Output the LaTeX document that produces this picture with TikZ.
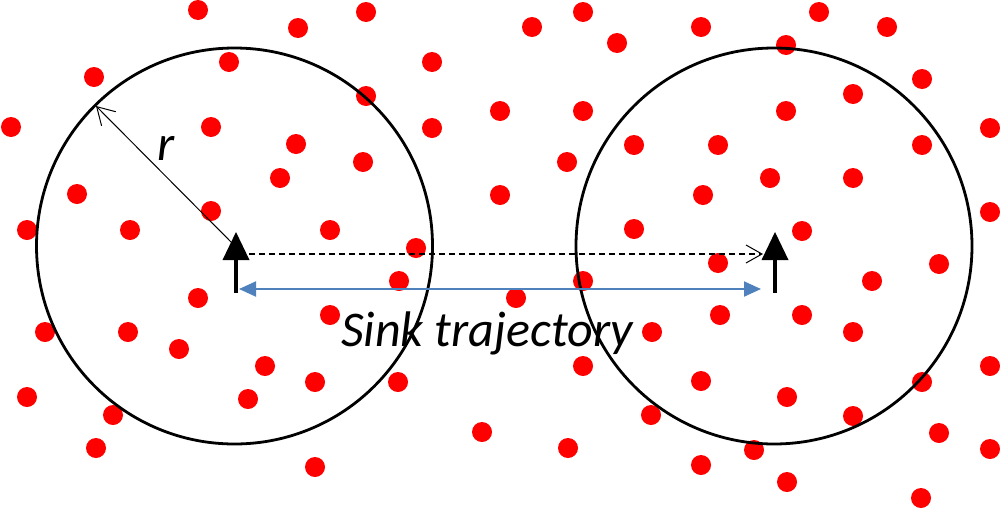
\documentclass[tikz,border=0pt]{standalone}
\usepackage{fontspec}
\setmainfont{Carlito}
\usetikzlibrary{arrows.meta}
\definecolor{dotred}{RGB}{255,0,0}
\definecolor{trajblue}{RGB}{79,129,189}
\begin{document}
\begin{tikzpicture}[x=1pt,y=-1pt,
  sensor/.style={fill=dotred},
  rangecircle/.style={circle,draw=black,line width=2.8pt,minimum size=396pt,inner sep=0pt},
  sinkhead/.style={fill=black},
  sinkstem/.style={line width=4pt},
  dashedmove/.style={draw=black,line width=1.1pt,dash pattern=on 6pt off 4pt,-{Straight Barb[length=16pt,width=18pt,line width=1pt]}},
  radiusline/.style={draw=black,line width=1pt,-{Straight Barb[length=17pt,width=20pt,line width=1pt]}},
  trajline/.style={draw=trajblue,line width=2pt,{Triangle[length=17pt,width=15pt]}-{Triangle[length=17pt,width=15pt]}},
  label/.style={font=\fontsize{50}{60}\selectfont\itshape,inner sep=0pt,anchor=base}
]
\useasboundingbox (0,0) rectangle (1000,509);
% sensor nodes (dots)
\foreach \x/\y in {198/10,298/28,366/12,229/62,94/77,432/62,366/96,11/127,211/127,432/128,500/111,296/144,363/162,280/178,77/194,500/195,211/211,27/230,130/230,330/230,416/248,
583/12,532/27,701/27,819/12,887/27,617/43,786/45,922/79,853/94,583/111,786/111,990/128,634/145,718/145,922/145,567/162,770/178,853/178,703/195,990/212,634/229,802/231,718/263,939/264,
399/281,198/298,330/315,45/332,128/332,179/349,265/366,315/382,398/382,27/397,248/399,113/415,482/432,96/448,315/467,
583/281,872/281,516/298,720/315,802/315,652/332,853/332,583/366,990/366,701/381,922/382,787/397,651/415,853/416,939/433,568/448,754/450,990/449,701/465,787/482,921/498}
  \fill[sensor] (\x,\y) circle[radius=10pt];
% range circles
\node[rangecircle] (c1) at (234.5,246) {};
\node[rangecircle] (c2) at (774,246) {};
% sink positions
\coordinate (s1) at (235,246);
\coordinate (s2) at (775,246);
\coordinate (redge) at (96,106);
% radius arrow
\draw[radiusline] (s1) -- (redge);
\node[label] (rlab) at (166,160) {r};
% dashed movement arrow
\coordinate (d1) at (249,254);
\coordinate (d2) at (763,254);
\draw[dashedmove] (d1) -- (d2);
% sink markers
\fill[sinkhead] (236,232) -- (249.5,260) -- (222.5,260) -- cycle;
\draw[sinkstem] (235.5,259) -- (235.5,293);
\fill[sinkhead] (775,232) -- (788.5,260) -- (761.5,260) -- cycle;
\draw[sinkstem] (774.5,259) -- (774.5,293);
% trajectory arrow
\coordinate (t1) at (239,289);
\coordinate (t2) at (761,289);
\draw[trajline] (t1) -- (t2);
\node[label] (traj) at (487,346) {Sink trajectory};
\end{tikzpicture}
\end{document}
